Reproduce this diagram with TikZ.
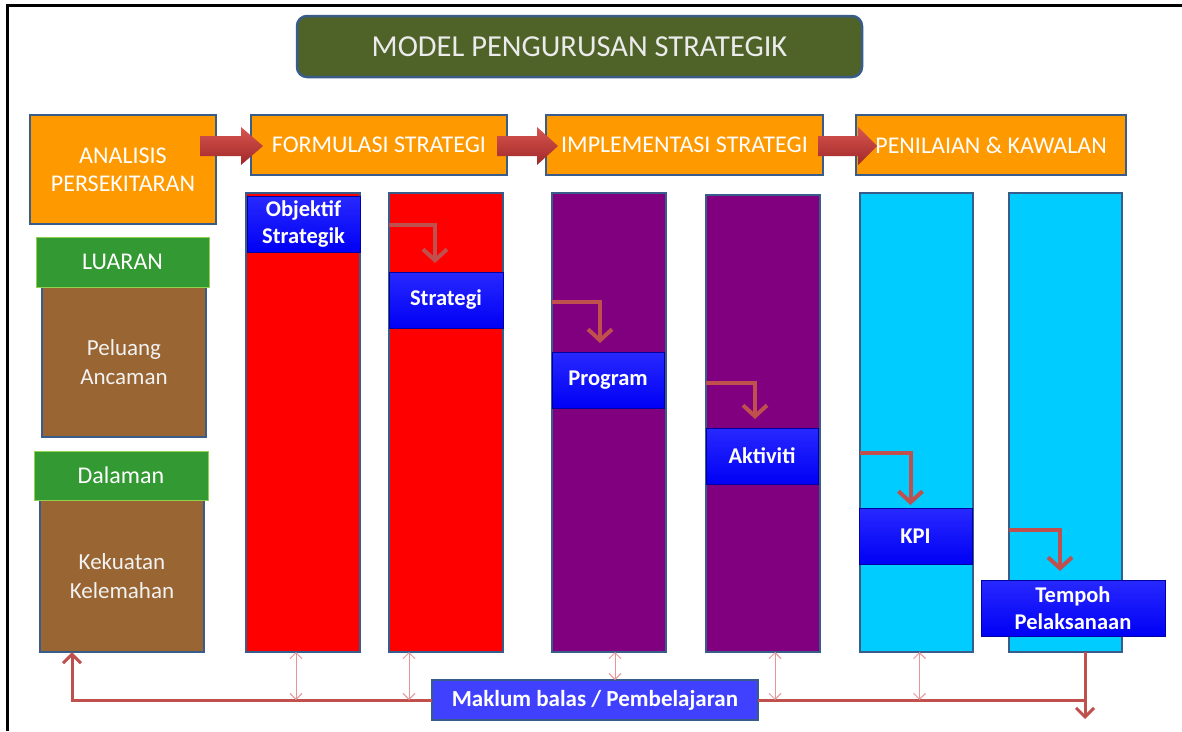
\documentclass[tikz,border=0pt]{standalone}
\usepackage{fontspec}
\setmainfont{Carlito}
\usetikzlibrary{arrows.meta,calc}
\definecolor{bordc}{RGB}{56,93,138}
\definecolor{orangec}{RGB}{255,153,0}
\definecolor{titlec}{RGB}{79,98,40}
\definecolor{brownc}{RGB}{153,102,51}
\definecolor{greenc}{RGB}{51,153,51}
\definecolor{greenb}{RGB}{146,208,80}
\definecolor{redc}{RGB}{255,0,0}
\definecolor{purplec}{RGB}{128,0,128}
\definecolor{cyanc}{RGB}{0,204,255}
\definecolor{bluec}{RGB}{0,0,245}
\definecolor{bluetop}{RGB}{40,40,255}
\definecolor{blueb}{RGB}{0,0,160}
\definecolor{makc}{RGB}{64,64,255}
\definecolor{arrc}{RGB}{192,80,77}
\definecolor{thinc}{RGB}{230,150,150}
\definecolor{bigtop}{RGB}{215,85,80}
\definecolor{bigbot}{RGB}{160,40,40}
\begin{document}
\begin{tikzpicture}[x=1pt,y=-1pt,
  box/.style={draw=bordc,line width=2.5pt,inner sep=0pt,outer sep=0pt,anchor=north west,align=center,text=white,font=\fontsize{23}{29}\selectfont},
  titlebox/.style={box,fill=titlec,rounded corners=10pt,text={rgb,255:red,235;green,235;blue,235},font=\fontsize{30.5}{34}\selectfont},
  headbox/.style={box,fill=orangec,font=\fontsize{24}{28}\selectfont},
  greenbox/.style={box,fill=greenc,draw=greenb,line width=1pt,font=\fontsize{24}{28}\selectfont},
  brownbox/.style={box,fill=brownc,text={rgb,255:red,242;green,242;blue,242}},
  colbox/.style={box,line width=2pt},
  bluebox/.style={box,top color=bluetop,bottom color=bluec,draw=blueb,line width=1pt,font=\fontsize{22.5}{27}\selectfont\bfseries},
  makbox/.style={box,fill=makc,draw=bordc,line width=2pt,font=\fontsize{23}{27}\selectfont\bfseries},
  elbow/.style={draw=arrc,line width=4pt,-{Straight Barb[length=11pt,width=24pt,line width=4pt]}},
  fb/.style={draw=arrc,line width=3pt},
  thin2/.style={draw=thinc,line width=1pt,{Straight Barb[length=6pt,width=12pt]}-{Straight Barb[length=6pt,width=12pt]}},
  bigarrow/.style={top color=bigtop,bottom color=bigbot,draw=none}
]
\useasboundingbox (0,0) rectangle (1182,731);
\fill[white] (0,0) rectangle (1182,731);
% frame
\draw[line width=3pt,black] (7,731) -- (7,5) -- (1182,5);

% title
\node[titlebox,minimum width=565pt,minimum height=61pt] (title) at (297,16) {MODEL PENGURUSAN STRATEGIK};

% headers
\node[headbox,minimum width=186pt,minimum height=109pt] (ana) at (30,115) {ANALISIS\\PERSEKITARAN};
\node[headbox,minimum width=256pt,minimum height=60pt] (form) at (251,115) {FORMULASI STRATEGI};
\node[headbox,minimum width=277pt,minimum height=60pt] (impl) at (546,115) {IMPLEMENTASI STRATEGI};
\node[headbox,minimum width=270pt,minimum height=60pt] (pen) at (856,115) {PENILAIAN \& KAWALAN};

% left boxes
\node[brownbox,minimum width=164pt,minimum height=150pt] (peluang) at (42,287) {Peluang\\Ancaman};
\node[greenbox,minimum width=173pt,minimum height=50pt] (luaran) at (36,237) {LUARAN};
\node[brownbox,minimum width=164pt,minimum height=152pt] (kekuatan) at (40,500) {Kekuatan\\Kelemahan};
\node[greenbox,minimum width=174pt,minimum height=49pt] (dalaman) at (34,451) {Dalaman};

% columns
\node[colbox,fill=redc,minimum width=114pt,minimum height=459pt] (col1) at (246,193) {};
\node[colbox,fill=redc,minimum width=114pt,minimum height=459pt] (col2) at (389,193) {};
\node[colbox,fill=purplec,minimum width=114pt,minimum height=459pt] (col3) at (552,193) {};
\node[colbox,fill=purplec,minimum width=114pt,minimum height=457pt] (col4) at (706,195) {};
\node[colbox,fill=cyanc,minimum width=113pt,minimum height=459pt] (col5) at (860,193) {};
\node[colbox,fill=cyanc,minimum width=113pt,minimum height=459pt] (col6) at (1009,193) {};

% blue boxes
\node[bluebox,minimum width=113pt,minimum height=56pt] (obj) at (247,196) {Objektif\\Strategik};
\node[bluebox,minimum width=114pt,minimum height=56pt] (strat) at (389,272) {Strategi};
\node[bluebox,minimum width=112pt,minimum height=56pt] (prog) at (552,352) {Program};
\node[bluebox,minimum width=112pt,minimum height=56pt] (akt) at (706,428) {Aktiviti};
\node[bluebox,minimum width=113pt,minimum height=56pt] (kpi) at (859,508) {KPI};
\node[bluebox,minimum width=184pt,minimum height=56pt] (tempoh) at (981,580) {Tempoh\\Pelaksanaan};

% big block arrows
\shade[bigarrow] (200,136) -- (241,136) -- (241,127) -- (263,146) -- (241,165) -- (241,156) -- (200,156) -- cycle;
\shade[bigarrow] (497,136) -- (537,136) -- (537,127) -- (558,146) -- (537,165) -- (537,156) -- (497,156) -- cycle;
\shade[bigarrow] (818,136) -- (858,136) -- (858,127) -- (877,146) -- (858,165) -- (858,156) -- (818,156) -- cycle;

% elbow arrows
\draw[elbow,shorten >=9pt] (col2.west |- 0,225) -| ([xshift=-11pt]strat.north);
\draw[elbow,shorten >=9pt] (col3.west |- 0,302) -| ([xshift=-8pt]prog.north);
\draw[elbow,shorten >=9pt] (col4.west |- 0,383) -| ([xshift=-7pt]akt.north);
\draw[elbow,shorten >=3pt] (col5.west |- 0,453) -| ([xshift=-5pt]kpi.north);
\draw[elbow,shorten >=9pt] (col6.west |- 0,530) -| ([xshift=-13pt]tempoh.north);

% feedback
\node[makbox,minimum width=326pt,minimum height=40pt] (mak) at (432,680) {Maklum balas / Pembelajaran};
\coordinate (fbend) at (1085,719);
\draw[fb,-{Straight Barb[length=9pt,width=18pt,line width=3pt]}] (mak.west) -| ([xshift=32pt]kekuatan.south west);
\draw[fb] (mak.east) -- (mak.east -| fbend);
\draw[fb,-{Straight Barb[length=9pt,width=18pt,line width=3pt]}] (col6.south -| fbend) -- (fbend);

% thin double arrows
\draw[thin2] ([xshift=-7pt]col1.south) -- ([xshift=-7pt]col1.south |- mak.west);
\draw[thin2] ([xshift=-37pt]col2.south) -- ([xshift=-37pt]col2.south |- mak.west);
\draw[thin2] ([xshift=6pt]col3.south) -- ([xshift=6pt]col3.south |- mak.north);
\draw[thin2] ([xshift=12pt]col4.south) -- ([xshift=12pt]col4.south |- mak.west);
\draw[thin2] ([xshift=3pt]col5.south) -- ([xshift=3pt]col5.south |- mak.west);
\end{tikzpicture}
\end{document}
